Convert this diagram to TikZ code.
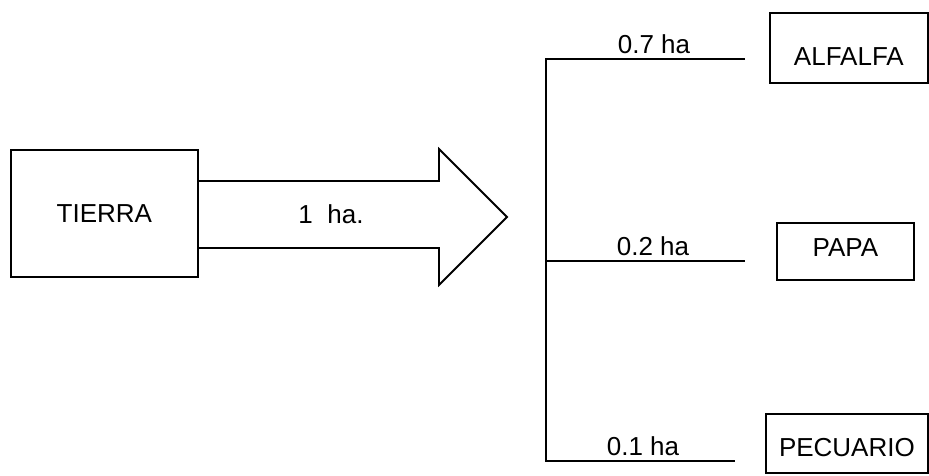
\documentclass[tikz,border=0pt]{standalone}
\usepackage{fontspec}
\setmainfont{Liberation Sans}
\begin{document}
\begin{tikzpicture}[x=1pt,y=-1pt,
  line width=1.8pt, line join=miter,
  every node/.style={font=\fontsize{26}{30}\selectfont, inner sep=0pt},
  box/.style={draw, anchor=north west, align=center},
  lbl/.style={anchor=base}]
\useasboundingbox (0,0) rectangle (929,476);
% boxes
\node[box, minimum width=187pt, text height=73pt, text depth=54pt] (tierra) at (10,149) {TIERRA};
\node[box, minimum width=158pt, text height=53pt, text depth=17pt] (alfalfa) at (769,12) {ALFALFA};
\node[box, minimum width=137pt, text height=34pt, text depth=23pt] (papa) at (776,222) {PAPA};
\node[box, minimum width=162pt, text height=43pt, text depth=16pt] (pecuario) at (765,413) {PECUARIO};
% big arrow
\coordinate (a1) at (199,181);
\coordinate (a2) at (439,181);
\coordinate (a3) at (439,149);
\coordinate (tip) at (507,217);
\coordinate (a5) at (439,285);
\coordinate (a6) at (439,248);
\coordinate (a7) at (199,248);
\draw (a1) -- (a2) -- (a3) -- (tip) -- (a5) -- (a6) -- (a7);
\node[lbl] (one) at (331,223) {1\ \ ha.};
% tree
\coordinate (t0) at (546,59);
\coordinate (t1) at (745,59);
\coordinate (m0) at (546,261);
\coordinate (m1) at (745,261);
\coordinate (b0) at (546,461);
\coordinate (b1) at (735,461);
\draw (t1) -- (t0) -- (b0) -- (b1);
\draw (m0) -- (m1);
\node[lbl] (l7) at (654,54) {0.7 ha};
\node[lbl] (l2) at (653,255) {0.2 ha};
\node[lbl] (l1) at (643,455) {0.1 ha};
\end{tikzpicture}
\end{document}
